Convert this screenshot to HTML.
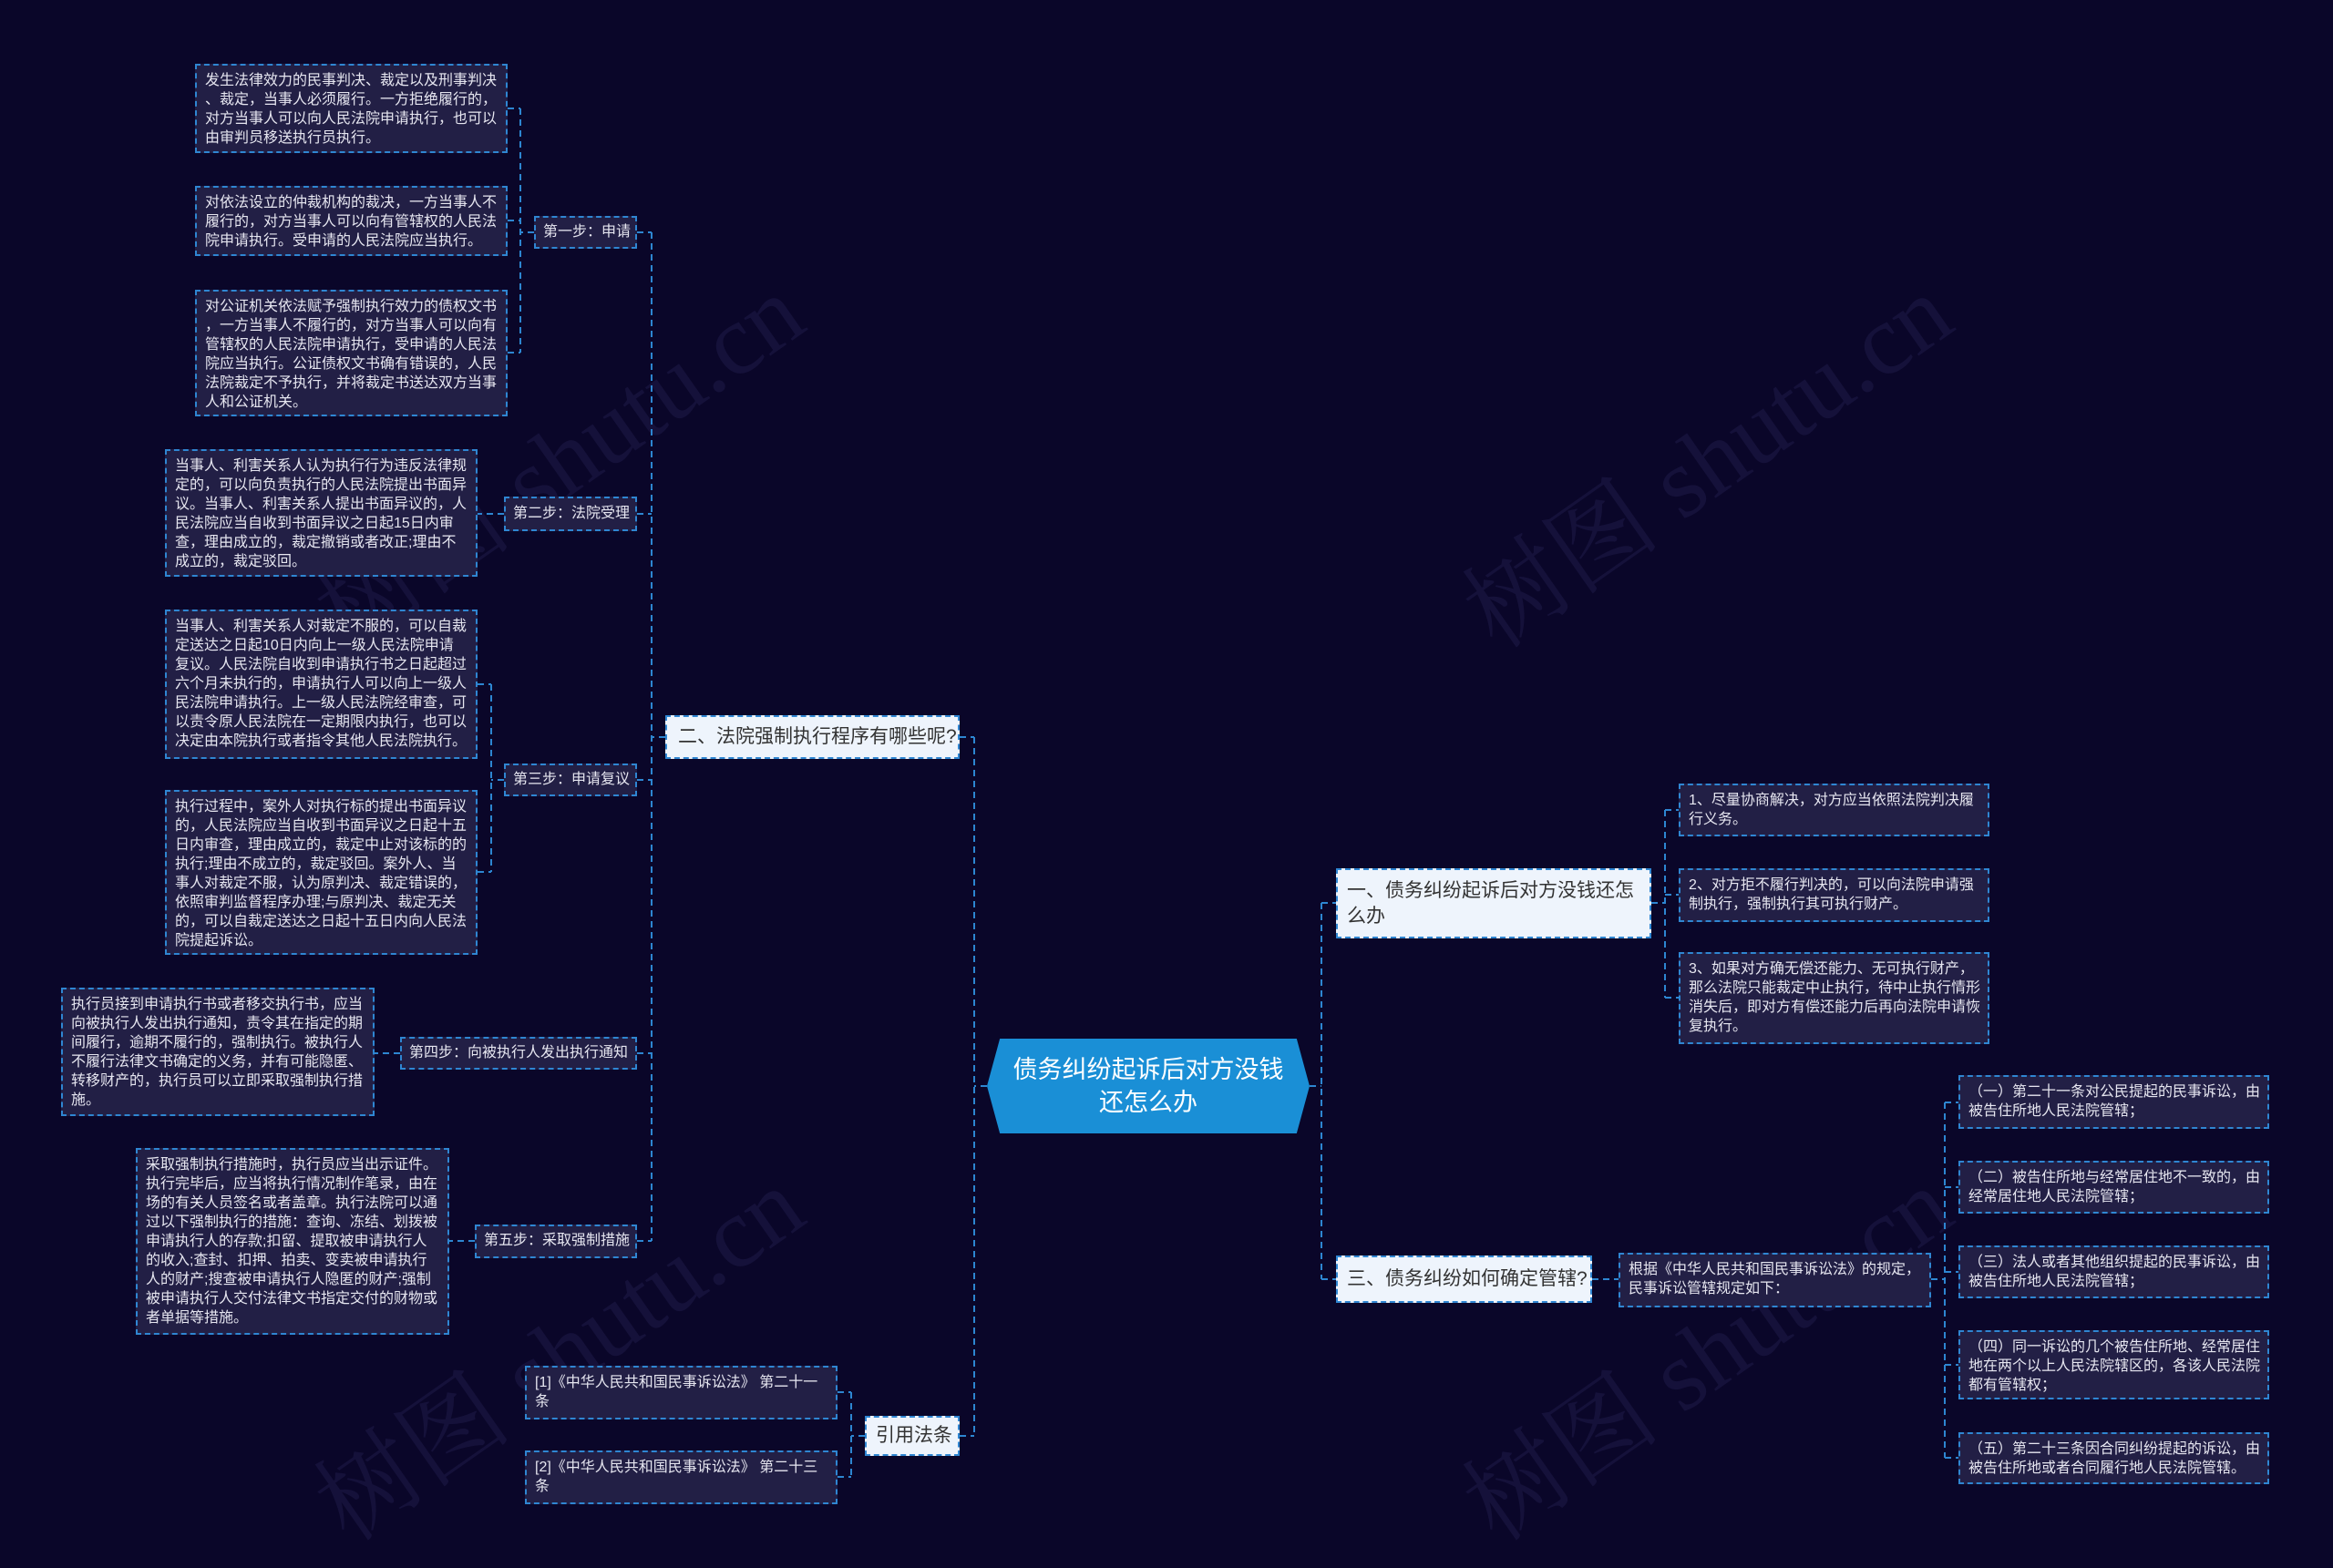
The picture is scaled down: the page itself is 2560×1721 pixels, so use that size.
<!DOCTYPE html>
<html><head><meta charset="utf-8">
<style>
html,body{margin:0;padding:0;}
body{width:2560px;height:1721px;background:#0a0629;position:relative;overflow:hidden;font-family:"Liberation Sans","Noto Sans CJK SC",sans-serif;}
.n{position:absolute;box-sizing:border-box;border:2px dashed #2f86d2;background:#221f45;color:#e6e6f0;font-size:16px;line-height:21px;padding:6px 9px;white-space:nowrap;}
.b{position:absolute;box-sizing:border-box;border:2px dashed #2f86d2;background:#eef4fc;color:#333;font-size:21px;line-height:28px;padding:8px 10px;white-space:nowrap;}
.s{position:absolute;box-sizing:border-box;border:2px dashed #2f86d2;background:#221f45;color:#e6e6f0;font-size:16px;line-height:32px;padding:0 8px;white-space:nowrap;text-align:center;}
.wm{position:absolute;color:#15113a;font-size:110px;font-family:"Liberation Serif","Noto Serif CJK SC",serif;transform:rotate(-35deg);white-space:nowrap;}
svg{position:absolute;left:0;top:0;}
</style></head><body>
<div class="wm" style="left:300px;top:420px;">树图 shutu.cn</div>
<div class="wm" style="left:1560px;top:420px;">树图 shutu.cn</div>
<div class="wm" style="left:300px;top:1400px;">树图 shutu.cn</div>
<div class="wm" style="left:1560px;top:1400px;">树图 shutu.cn</div>
<svg width="2560" height="1721"><g fill="none" stroke="#2d86d1" stroke-width="2" stroke-dasharray="7 5">
<path d="M1083 1192H1069M1069 809V1576M1053 809H1069M1053 1576H1069"/>
<path d="M730 809H715M715 255V1362M699 255H715M699 564H715M699 856H715M699 1156H715M699 1362H715"/>
<path d="M586 255H571M571 119V387M557 119H571M557 242H571M557 387H571"/>
<path d="M553 564H524"/>
<path d="M553 856H539M539 751V957M524 751H539M524 957H539"/>
<path d="M439 1156H411"/>
<path d="M521 1362H493"/>
<path d="M949 1576H934M934 1528V1621M919 1528H934M919 1621H934"/>
<path d="M1437 1192H1450M1450 991V1404M1450 991H1466M1450 1404H1466"/>
<path d="M1812 991H1827M1827 889V1095M1827 889H1842M1827 982H1842M1827 1095H1842"/>
<path d="M1747 1404H1776"/>
<path d="M2119 1404H2134M2134 1210V1600M2134 1210H2149M2134 1303H2149M2134 1396H2149M2134 1498H2149M2134 1600H2149"/>
</g></svg>

<div style="position:absolute;left:1083px;top:1140px;width:354px;height:104px;background:#1a8fd6;clip-path:polygon(4% 0,96% 0,100% 50%,96% 100%,4% 100%,0 50%);color:#fff;font-size:27px;line-height:36px;text-align:center;display:flex;align-items:center;justify-content:center;">债务纠纷起诉后对方没钱<br>还怎么办</div>

<div class="n" style="left:214px;top:70px;width:343px;height:98px;">发生法律效力的民事判决、裁定以及刑事判决<br>、裁定，当事人必须履行。一方拒绝履行的，<br>对方当事人可以向人民法院申请执行，也可以<br>由审判员移送执行员执行。</div>
<div class="n" style="left:214px;top:204px;width:343px;height:77px;">对依法设立的仲裁机构的裁决，一方当事人不<br>履行的，对方当事人可以向有管辖权的人民法<br>院申请执行。受申请的人民法院应当执行。</div>
<div class="n" style="left:214px;top:318px;width:343px;height:139px;">对公证机关依法赋予强制执行效力的债权文书<br>，一方当事人不履行的，对方当事人可以向有<br>管辖权的人民法院申请执行，受申请的人民法<br>院应当执行。公证债权文书确有错误的，人民<br>法院裁定不予执行，并将裁定书送达双方当事<br>人和公证机关。</div>
<div class="n" style="left:181px;top:493px;width:343px;height:140px;">当事人、利害关系人认为执行行为违反法律规<br>定的，可以向负责执行的人民法院提出书面异<br>议。当事人、利害关系人提出书面异议的，人<br>民法院应当自收到书面异议之日起15日内审<br>查，理由成立的，裁定撤销或者改正;理由不<br>成立的，裁定驳回。</div>
<div class="n" style="left:181px;top:669px;width:343px;height:164px;">当事人、利害关系人对裁定不服的，可以自裁<br>定送达之日起10日内向上一级人民法院申请<br>复议。人民法院自收到申请执行书之日起超过<br>六个月未执行的，申请执行人可以向上一级人<br>民法院申请执行。上一级人民法院经审查，可<br>以责令原人民法院在一定期限内执行，也可以<br>决定由本院执行或者指令其他人民法院执行。</div>
<div class="n" style="left:181px;top:867px;width:343px;height:181px;">执行过程中，案外人对执行标的提出书面异议<br>的，人民法院应当自收到书面异议之日起十五<br>日内审查，理由成立的，裁定中止对该标的的<br>执行;理由不成立的，裁定驳回。案外人、当<br>事人对裁定不服，认为原判决、裁定错误的，<br>依照审判监督程序办理;与原判决、裁定无关<br>的，可以自裁定送达之日起十五日内向人民法<br>院提起诉讼。</div>
<div class="n" style="left:67px;top:1084px;width:344px;height:141px;">执行员接到申请执行书或者移交执行书，应当<br>向被执行人发出执行通知，责令其在指定的期<br>间履行，逾期不履行的，强制执行。被执行人<br>不履行法律文书确定的义务，并有可能隐匿、<br>转移财产的，执行员可以立即采取强制执行措<br>施。</div>
<div class="n" style="left:149px;top:1260px;width:344px;height:205px;">采取强制执行措施时，执行员应当出示证件。<br>执行完毕后，应当将执行情况制作笔录，由在<br>场的有关人员签名或者盖章。执行法院可以通<br>过以下强制执行的措施：查询、冻结、划拨被<br>申请执行人的存款;扣留、提取被申请执行人<br>的收入;查封、扣押、拍卖、变卖被申请执行<br>人的财产;搜查被申请执行人隐匿的财产;强制<br>被申请执行人交付法律文书指定交付的财物或<br>者单据等措施。</div>

<div class="s" style="left:586px;top:237px;width:113px;height:36px;">第一步：申请</div>
<div class="s" style="left:553px;top:545px;width:146px;height:38px;line-height:34px;">第二步：法院受理</div>
<div class="s" style="left:553px;top:838px;width:146px;height:36px;">第三步：申请复议</div>
<div class="s" style="left:439px;top:1138px;width:260px;height:36px;">第四步：向被执行人发出执行通知</div>
<div class="s" style="left:521px;top:1344px;width:178px;height:37px;">第五步：采取强制措施</div>

<div class="b" style="left:730px;top:785px;width:323px;height:48px;line-height:30px;padding:7px 12px;">二、法院强制执行程序有哪些呢?</div>
<div class="b" style="left:949px;top:1554px;width:104px;height:44px;line-height:28px;padding:6px 10px;">引用法条</div>
<div class="n" style="left:576px;top:1499px;width:343px;height:59px;">[1]《中华人民共和国民事诉讼法》 第二十一<br>条</div>
<div class="n" style="left:576px;top:1592px;width:343px;height:59px;">[2]《中华人民共和国民事诉讼法》 第二十三<br>条</div>

<div class="b" style="left:1466px;top:953px;width:346px;height:77px;line-height:28px;padding:9px 10px;">一、债务纠纷起诉后对方没钱还怎<br>么办</div>
<div class="n" style="left:1842px;top:860px;width:341px;height:58px;">1、尽量协商解决，对方应当依照法院判决履<br>行义务。</div>
<div class="n" style="left:1842px;top:953px;width:341px;height:59px;">2、对方拒不履行判决的，可以向法院申请强<br>制执行，强制执行其可执行财产。</div>
<div class="n" style="left:1842px;top:1045px;width:341px;height:101px;">3、如果对方确无偿还能力、无可执行财产，<br>那么法院只能裁定中止执行，待中止执行情形<br>消失后，即对方有偿还能力后再向法院申请恢<br>复执行。</div>

<div class="b" style="left:1466px;top:1378px;width:281px;height:52px;line-height:32px;padding:8px 10px;">三、债务纠纷如何确定管辖?</div>
<div class="n" style="left:1776px;top:1375px;width:343px;height:60px;">根据《中华人民共和国民事诉讼法》的规定，<br>民事诉讼管辖规定如下：</div>
<div class="n" style="left:2149px;top:1180px;width:341px;height:59px;">（一）第二十一条对公民提起的民事诉讼，由<br>被告住所地人民法院管辖；</div>
<div class="n" style="left:2149px;top:1274px;width:341px;height:58px;">（二）被告住所地与经常居住地不一致的，由<br>经常居住地人民法院管辖；</div>
<div class="n" style="left:2149px;top:1367px;width:341px;height:58px;">（三）法人或者其他组织提起的民事诉讼，由<br>被告住所地人民法院管辖；</div>
<div class="n" style="left:2149px;top:1460px;width:341px;height:76px;">（四）同一诉讼的几个被告住所地、经常居住<br>地在两个以上人民法院辖区的，各该人民法院<br>都有管辖权；</div>
<div class="n" style="left:2149px;top:1572px;width:341px;height:57px;">（五）第二十三条因合同纠纷提起的诉讼，由<br>被告住所地或者合同履行地人民法院管辖。</div>
</body></html>
